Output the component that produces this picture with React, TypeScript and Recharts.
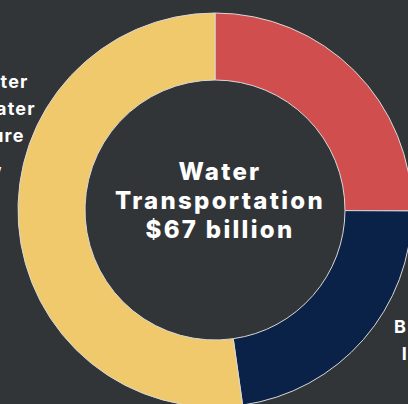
import React from "react";
import { PieChart, Pie, Cell } from "recharts";

const categories = [
  "Ship and Boat Building",
  "Barge and Inland Freight",
  "Deep Sea and Great Lakes Water",
];
const values = [16.8, 15.2, 35];
const labelLines = [
  ["Ship and Boat", "Building"],
  ["Barge & Towing", "Inland Freight"],
  ["Great Lakes Water", "Coastal Deep Water", "for Infrastructure", "and Shipping,"],
];
const colors = ["#D14E4F", "#0B2248", "#F0C96C"];
const centerLines = ["Water", "Transportation", "$67 billion"];

const data = categories.map((name, i) => ({ name, value: values[i] }));

const FONT = "Inter, 'Open Sans', sans-serif";

const renderLabel = (props: any) => {
  const { cx, cy, outerRadius, index } = props;
  let x = 0;
  let y = 0;
  let anchor: "start" | "middle" = "middle";
  let spacing = 1.2;
  if (index === 0) {
    x = cx + outerRadius + 30;
    y = cy - outerRadius * 0.6;
    anchor = "start";
  } else if (index === 1) {
    x = cx + outerRadius + 78;
    y = cy + outerRadius * 0.6 + 5;
    spacing = 4;
  } else {
    x = cx - outerRadius - 80;
    y = cy - outerRadius * 0.62;
  }
  const lines = labelLines[index];
  const last = lines.length - 1;
  return (
    <text
      key={`lbl-${index}`}
      x={x}
      y={y}
      textAnchor={anchor}
      fill="#FFFFFF"
      fontFamily={FONT}
      fontWeight={700}
      fontSize={18}
      letterSpacing={spacing}
    >
      {lines.map((l, i) => (
        <tspan key={i} x={index === 2 && i === last ? x - 2.5 : x} dy={i === 0 ? 0 : 27}>
          {l}
        </tspan>
      ))}
    </text>
  );
};

export default function App() {
  return (
    <div
      style={{
        position: "absolute",
        left: 0,
        top: 0,
        width: 408,
        height: 404,
        background: "#323538",
        overflow: "hidden",
      }}
    >
      <PieChart width={408} height={404} margin={{ top: 0, right: 0, bottom: 0, left: 0 }}>
        <Pie
          data={data}
          dataKey="value"
          nameKey="name"
          cx={215}
          cy={210}
          innerRadius={130}
          outerRadius={197}
          startAngle={90}
          endAngle={-270}
          stroke="#D8D8D8"
          strokeWidth={1}
          label={renderLabel}
          labelLine={false}
          isAnimationActive={false}
        >
          {data.map((d, i) => (
            <Cell key={d.name} fill={colors[i]} />
          ))}
        </Pie>
        <text
          x={220}
          y={180}
          textAnchor="middle"
          fill="#FFFFFF"
          fontFamily={FONT}
          fontWeight={800}
          fontSize={24}
          letterSpacing={2.3}
        >
          {centerLines.map((l, i) => (
            <tspan key={i} x={220} dy={i === 0 ? 0 : 29}>
              {l}
            </tspan>
          ))}
        </text>
      </PieChart>
    </div>
  );
}
